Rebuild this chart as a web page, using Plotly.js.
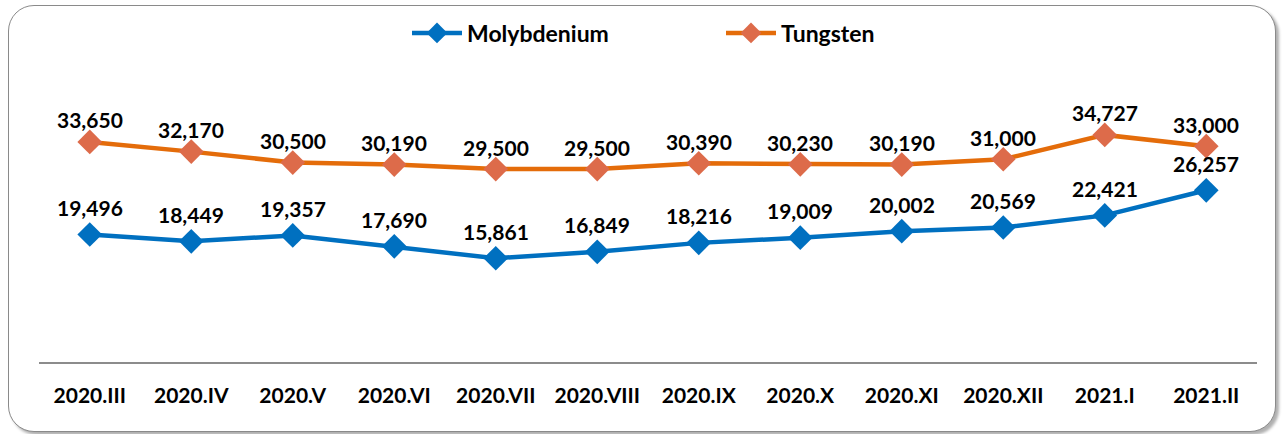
<!DOCTYPE html>
<html>
<head>
<meta charset="utf-8">
<script src="https://cdn.plot.ly/plotly-3.0.1.min.js"></script>
<style>
  html, body { margin: 0; padding: 0; background: #fff; }
  #frame { position: absolute; left: 8px; top: 5px; width: 1266px; height: 425px;
           border: 1.5px solid #8a8a8a; border-radius: 26px; box-shadow: 3px 3px 3px #b0b0b0; background: #fff; }
  #chart { position: absolute; left: 0; top: 0; width: 1283px; height: 434px; }
</style>
</head>
<body>
<div id="frame"></div>
<div id="chart"></div>
<script>
const categories = ["2020.III","2020.IV","2020.V","2020.VI","2020.VII","2020.VIII","2020.IX","2020.X","2020.XI","2020.XII","2021.I","2021.II"];
const molybdenium = [19496,18449,19357,17690,15861,16849,18216,19009,20002,20569,22421,26257];
const tungsten = [33650,32170,30500,30190,29500,29500,30390,30230,30190,31000,34727,33000];

const FONT = "Lato, 'Open Sans', sans-serif";
const fmt = v => v.toLocaleString("en-US");

const traces = [
  { x: categories, y: molybdenium, name: "Molybdenium", type: "scatter", mode: "lines+markers",
    line: { color: "#0070C0", width: 4.5 }, marker: { symbol: "diamond", size: 19, color: "#0070C0" } },
  { x: categories, y: tungsten, name: "Tungsten", type: "scatter", mode: "lines+markers",
    line: { color: "#E46C0A", width: 4.5 }, marker: { symbol: "diamond", size: 19, color: "#DD6B4A" } }
];

const annotations = [];
categories.forEach((c, i) => {
  annotations.push({ x: c, y: molybdenium[i], text: fmt(molybdenium[i]), showarrow: false, yshift: 27,
    font: { family: FONT, size: 21, color: "#000", weight: "bold" } });
  annotations.push({ x: c, y: tungsten[i], text: fmt(tungsten[i]), showarrow: false, yshift: 22,
    font: { family: FONT, size: 21, color: "#000", weight: "bold" } });
});

const layout = {
  width: 1283, height: 434,
  margin: { l: 39, r: 26, t: 60, b: 72, autoexpand: false },
  paper_bgcolor: "rgba(0,0,0,0)", plot_bgcolor: "rgba(0,0,0,0)",
  showlegend: true,
  legend: { orientation: "h", xref: "container", x: 407 / 1283, xanchor: "left", yref: "container", y: 1 - 33 / 434, yanchor: "middle",
    font: { family: FONT, size: 23, color: "#000", weight: "bold" }, entrywidth: 249, itemwidth: 50, bgcolor: "rgba(0,0,0,0)" },
  xaxis: { type: "category", range: [-0.5, 11.5], showgrid: false, zeroline: false, showline: true, linecolor: "#8c8c8c", linewidth: 1.5,
    ticks: "", ticklabelstandoff: 14, tickfont: { family: FONT, size: 21, color: "#000", weight: "bold" }, fixedrange: true },
  yaxis: { range: [0, 46180], visible: false, showgrid: false, zeroline: false, fixedrange: true },
  annotations: annotations
};

Plotly.newPlot("chart", traces, layout, { displayModeBar: false, staticPlot: true });
</script>
</body>
</html>
